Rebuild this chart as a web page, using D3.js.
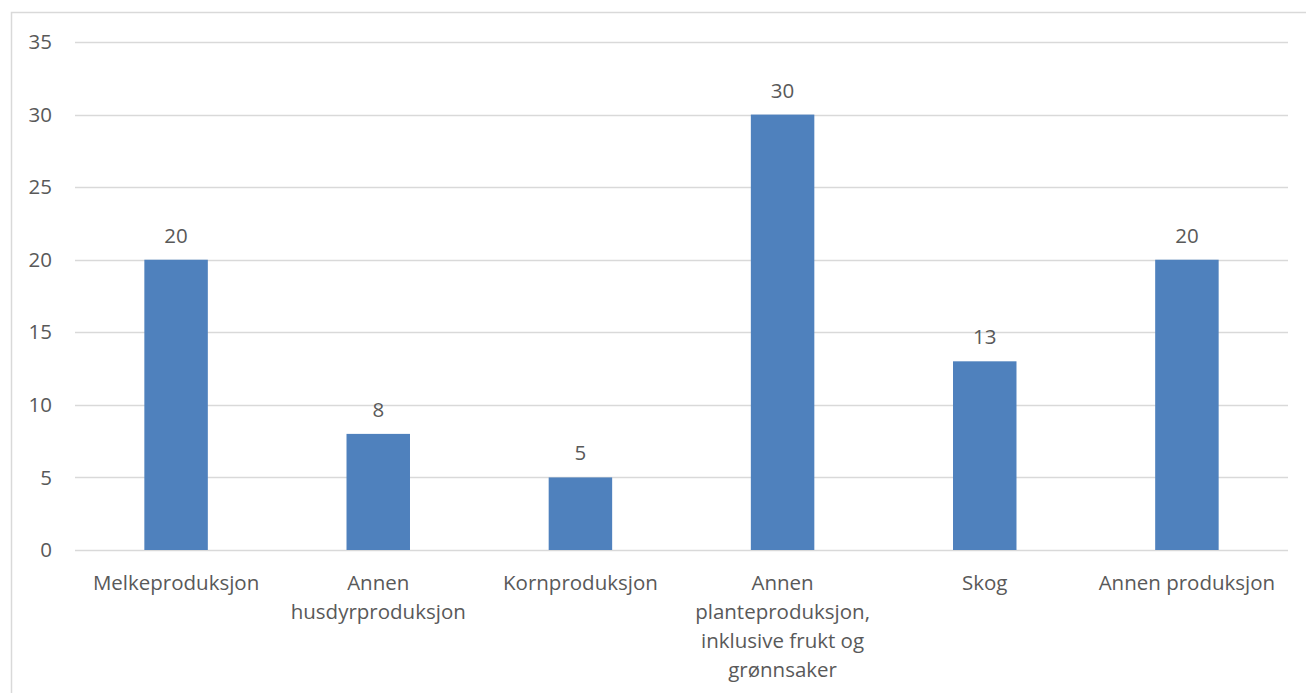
<!DOCTYPE html>
<html><head><meta charset="utf-8">
<script src="https://cdn.jsdelivr.net/npm/d3@7"></script>
<style>
body{margin:0;background:#fff;}
svg text{font-family:"Open Sans","Noto Sans",sans-serif;fill:#595959;}
</style></head>
<body><svg id="c" width="1306" height="693"></svg>
<script>
const categories = [
  ["Melkeproduksjon"],
  ["Annen","husdyrproduksjon"],
  ["Kornproduksjon"],
  ["Annen","planteproduksjon,","inklusive frukt og","grønnsaker"],
  ["Skog"],
  ["Annen produksjon"]
];
const values = [20, 8, 5, 30, 13, 20];
const yTicks = [0, 5, 10, 15, 20, 25, 30, 35];

(function(){
const svg = d3.select("#c");
svg.append("rect").attr("x",11.5).attr("y",12.5).attr("width",1400).attr("height",800)
  .attr("fill","#fff").attr("stroke","#d9d9d9").attr("stroke-width",1.5);

const pl=75, pr=1288, pt=42, pb=550;
const fs="20.5px";
const x = d3.scaleBand().domain(d3.range(values.length)).range([pl,pr]).paddingInner(0.686).paddingOuter(0.343);
const y = d3.scaleLinear().domain([0,35]).range([pb,pt]);

const g = svg.append("g");
g.selectAll("line.grid").data(yTicks).enter().append("line")
  .attr("x1",pl).attr("x2",pr).attr("y1",d=>Math.round(y(d))+0.5).attr("y2",d=>Math.round(y(d))+0.5)
  .attr("stroke","#d9d9d9").attr("stroke-width",1.5);
g.selectAll("text.yt").data(yTicks).enter().append("text")
  .attr("x",52).attr("y",d=>y(d)).attr("dy","0.35em").attr("text-anchor","end")
  .style("font-size",fs).text(d=>d);

g.selectAll("rect.bar").data(values).enter().append("rect")
  .attr("x",(d,i)=>x(i)).attr("width",x.bandwidth())
  .attr("y",d=>y(d)).attr("height",d=>y(0)-y(d)).attr("fill","#4f81bd");

g.selectAll("text.val").data(values).enter().append("text")
  .attr("x",(d,i)=>x(i)+x.bandwidth()/2).attr("y",d=>y(d)-17).attr("text-anchor","middle")
  .style("font-size",fs).text(d=>d);

categories.forEach((lines,i)=>{
  const t = g.append("text").attr("text-anchor","middle").style("font-size",fs);
  lines.forEach((ln,j)=>{
    t.append("tspan").attr("x",x(i)+x.bandwidth()/2).attr("y",pb+40+j*29).text(ln);
  });
});
})();
</script></body></html>
